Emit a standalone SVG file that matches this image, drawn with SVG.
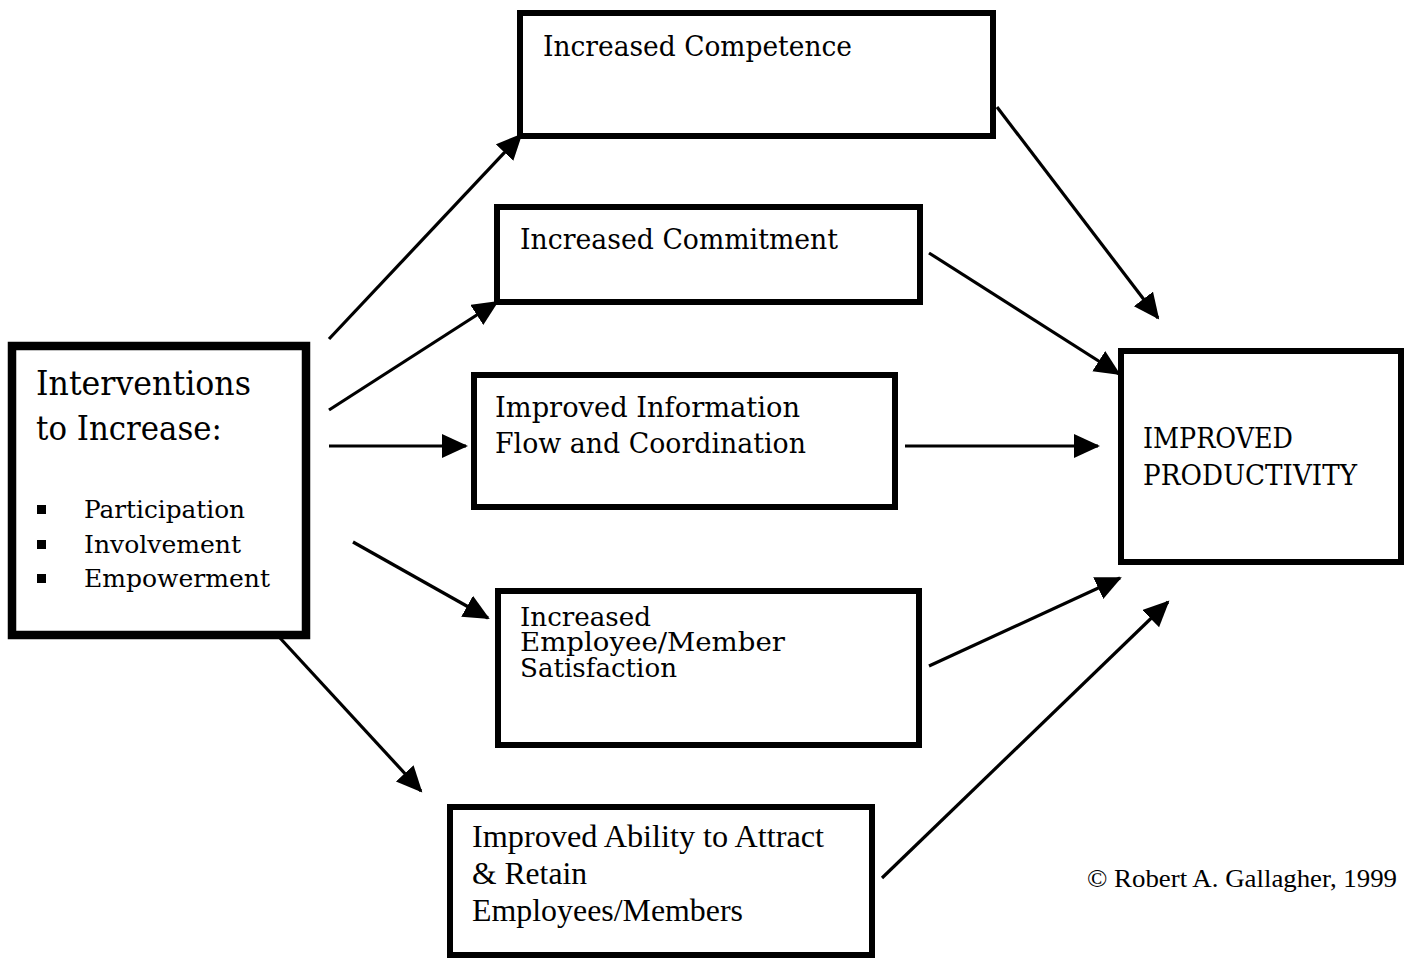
<svg xmlns="http://www.w3.org/2000/svg" width="1408" height="959" viewBox="0 0 1408 959">
  <style>
    .box { fill: #ffffff; stroke: #000000; stroke-width: 6; }
    .box-heavy { fill: #ffffff; stroke: #000000; stroke-width: 8.5; }
    .cam { font-family: "DejaVu Serif", "Liberation Serif", serif; fill: #000000; }
    .tms { font-family: "Liberation Serif", "Times New Roman", serif; fill: #000000; }
    .link { stroke: #000000; stroke-width: 3.2; fill: none; marker-end: url(#head); }
  </style>
  <defs>
    <marker id="head" markerUnits="userSpaceOnUse" markerWidth="30" markerHeight="30" refX="24" refY="12" orient="auto">
      <path d="M0,0 L26,12 L0,24 Z" fill="#000000"/>
    </marker>
  </defs>

  <rect width="1408" height="959" fill="#ffffff"/>

  <!-- connectors -->
  <g id="connectors">
    <line class="link" x1="329" y1="339" x2="521" y2="135"/>
    <line class="link" x1="329" y1="410" x2="497" y2="302"/>
    <line class="link" x1="329" y1="446" x2="466" y2="446"/>
    <line class="link" x1="353" y1="542" x2="488" y2="618"/>
    <line class="link" x1="280" y1="638" x2="421" y2="791"/>
    <line class="link" x1="997" y1="107" x2="1158" y2="318"/>
    <line class="link" x1="929" y1="253" x2="1119" y2="374"/>
    <line class="link" x1="905" y1="446" x2="1098" y2="446"/>
    <line class="link" x1="929" y1="666" x2="1120" y2="578"/>
    <line class="link" x1="882" y1="878" x2="1168" y2="602"/>
  </g>

  <!-- source box -->
  <g id="interventions">
    <rect class="box-heavy" x="12" y="346" width="294" height="289"/>
    <text class="cam" x="36" y="395" font-size="33" textLength="215" lengthAdjust="spacingAndGlyphs">Interventions</text>
    <text class="cam" x="36" y="440" font-size="33" textLength="186" lengthAdjust="spacingAndGlyphs">to Increase:</text>
    <rect x="37" y="505" width="9" height="9" fill="#000000"/>
    <rect x="37" y="540" width="9" height="9" fill="#000000"/>
    <rect x="37" y="574" width="9" height="9" fill="#000000"/>
    <text class="cam" x="84" y="518" font-size="24" textLength="161" lengthAdjust="spacingAndGlyphs">Participation</text>
    <text class="cam" x="84" y="553" font-size="24" textLength="157" lengthAdjust="spacingAndGlyphs">Involvement</text>
    <text class="cam" x="84" y="587" font-size="24" textLength="186" lengthAdjust="spacingAndGlyphs">Empowerment</text>
  </g>

  <g id="competence">
    <rect class="box" x="520" y="13" width="473" height="123"/>
    <text class="cam" x="543" y="56" font-size="27" textLength="309" lengthAdjust="spacingAndGlyphs">Increased Competence</text>
  </g>

  <g id="commitment">
    <rect class="box" x="497" y="207" width="423" height="95"/>
    <text class="cam" x="520" y="249" font-size="27" textLength="318" lengthAdjust="spacingAndGlyphs">Increased Commitment</text>
  </g>

  <g id="information">
    <rect class="box" x="474" y="375" width="421" height="132"/>
    <text class="cam" x="495" y="417" font-size="27" textLength="305" lengthAdjust="spacingAndGlyphs">Improved Information</text>
    <text class="cam" x="495" y="453" font-size="27" textLength="311" lengthAdjust="spacingAndGlyphs">Flow and Coordination</text>
  </g>

  <!-- lines set tightly, as in the printed chart -->
  <g id="satisfaction">
    <rect class="box" x="498" y="591" width="421" height="154"/>
    <text class="cam" x="520" y="626" font-size="26" textLength="131" lengthAdjust="spacingAndGlyphs">Increased</text>
    <text class="cam" x="520" y="651" font-size="26" textLength="265" lengthAdjust="spacingAndGlyphs">Employee/Member</text>
    <text class="cam" x="520" y="677" font-size="26" textLength="157" lengthAdjust="spacingAndGlyphs">Satisfaction</text>
  </g>

  <g id="attract-retain">
    <rect class="box" x="450" y="807" width="422" height="148"/>
    <text class="tms" x="472" y="847" font-size="32" textLength="352" lengthAdjust="spacingAndGlyphs">Improved Ability to Attract</text>
    <text class="tms" x="472" y="884" font-size="32" textLength="115" lengthAdjust="spacingAndGlyphs">&amp; Retain</text>
    <text class="tms" x="472" y="921" font-size="32" textLength="271" lengthAdjust="spacingAndGlyphs">Employees/Members</text>
  </g>

  <g id="productivity">
    <rect class="box" x="1121" y="351" width="280" height="211"/>
    <text class="cam" x="1143" y="448" font-size="27" textLength="150" lengthAdjust="spacingAndGlyphs">IMPROVED</text>
    <text class="cam" x="1143" y="485" font-size="27" textLength="214" lengthAdjust="spacingAndGlyphs">PRODUCTIVITY</text>
  </g>

  <text class="tms" x="1087" y="887" font-size="26" textLength="310" lengthAdjust="spacingAndGlyphs">© Robert A. Gallagher, 1999</text>
</svg>
